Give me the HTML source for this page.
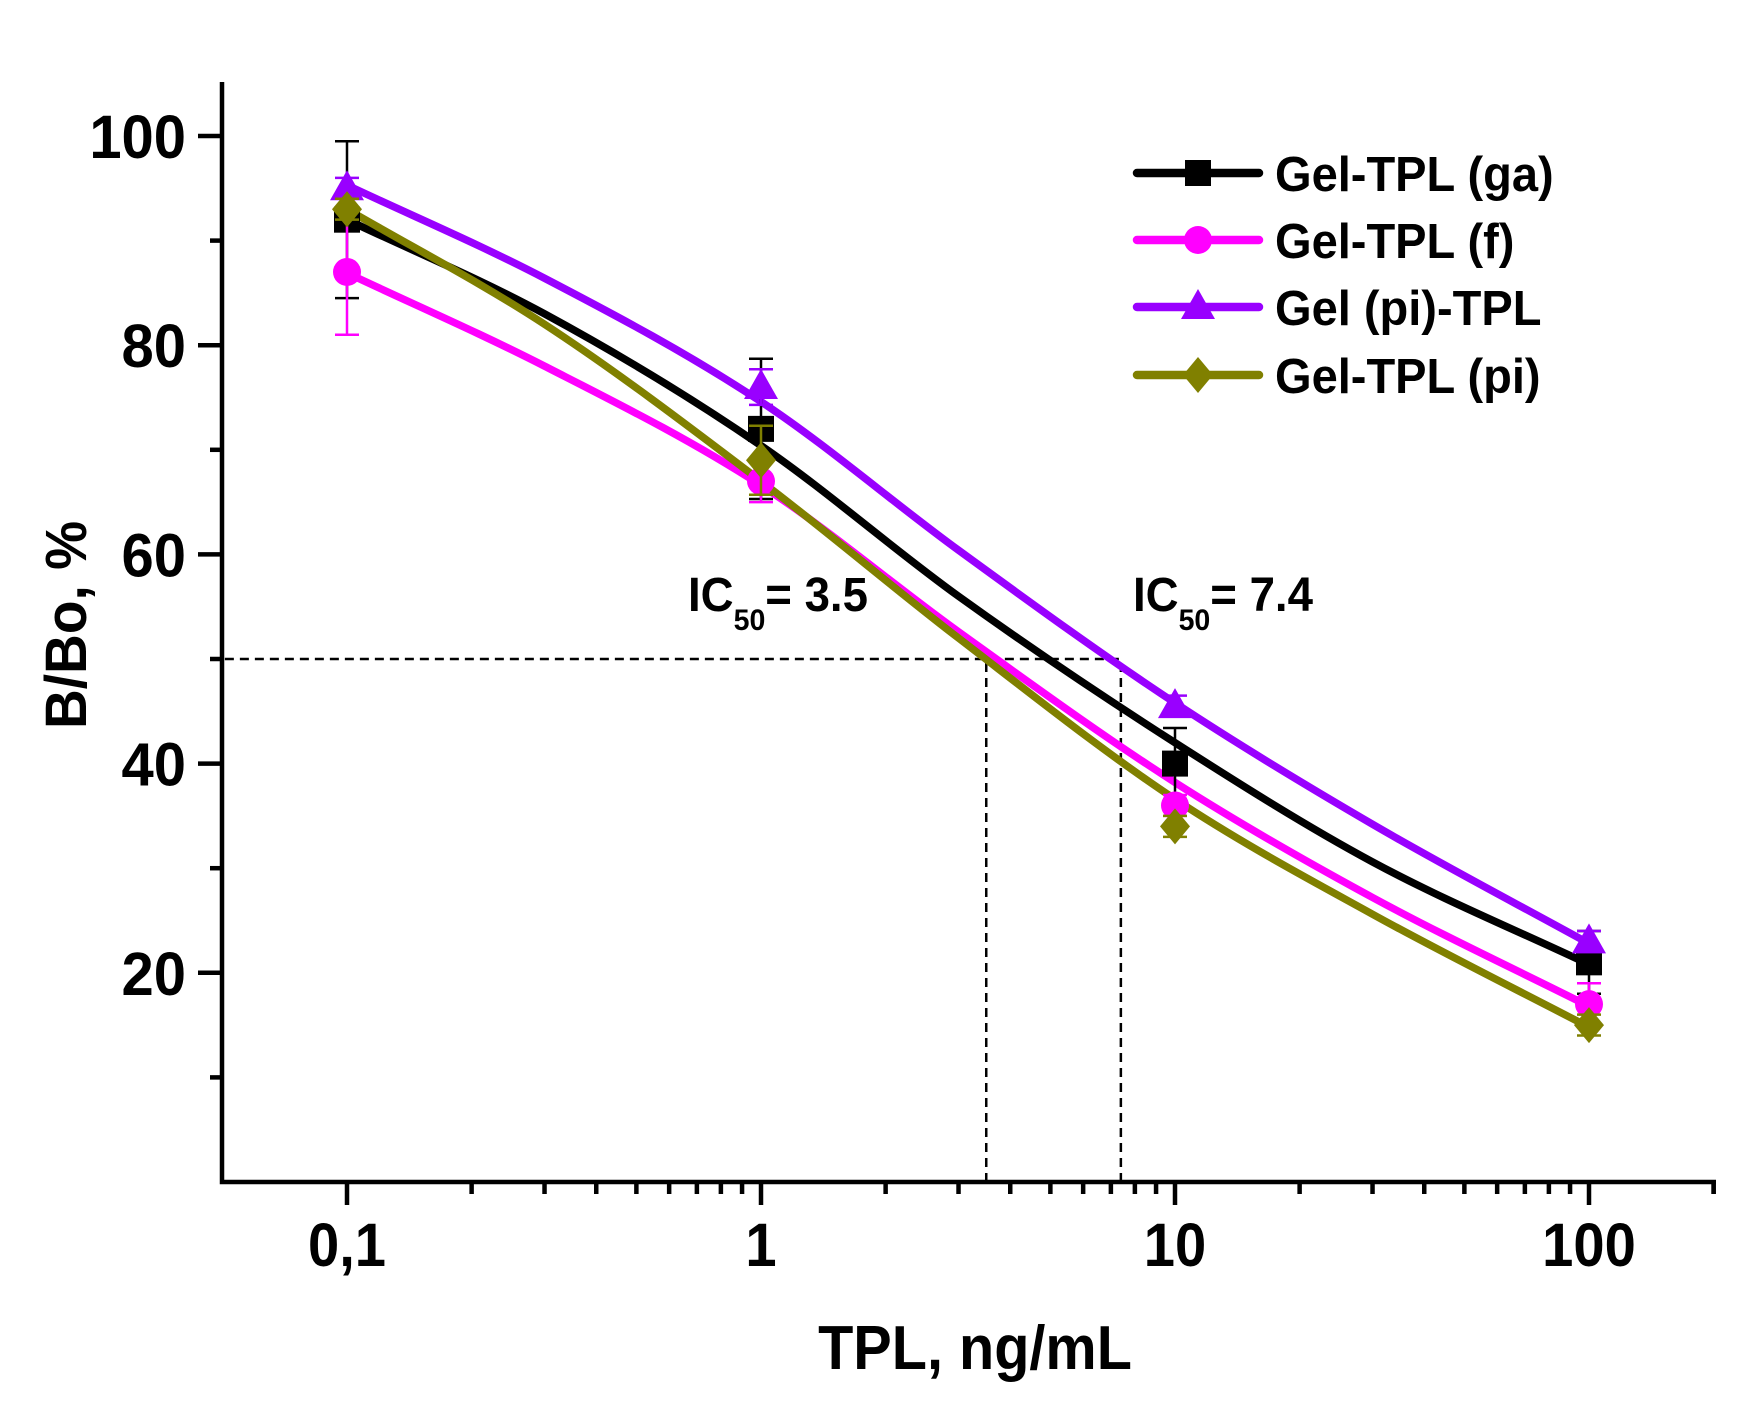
<!DOCTYPE html>
<html><head><meta charset="utf-8"><style>
html,body{margin:0;padding:0;background:#fff;}
svg{display:block;font-family:"Liberation Sans",Arial,sans-serif;font-weight:bold;}
</style></head><body>
<svg id="chart" width="1758" height="1425" viewBox="0 0 1758 1425" xmlns="http://www.w3.org/2000/svg">
<g id="grid"></g>
<g id="series"></g>
<g id="axes"></g>
<g id="legend"></g>
</svg>
<script>
const concentrations = [0.1, 1, 10, 100];
const gaValues = [92, 72, 40, 21];
const gaErrors = [7.5, 6.7, 3.4, 3];
const fValues = [87, 67, 36, 17];
const fErrors = [6, 2, 1, 2];
const piGelValues = [95, 76, 45.5, 23];
const piGelErrors = [1, 1.7, 1, 1];
const piTplValues = [93, 69, 34, 15];
const piTplErrors = [1, 3.3, 1, 1];
const fitX = [0.1, 0.3, 1, 3, 10, 30, 100];
const gaFit = [92, 83, 70.4, 56, 42, 30.6, 20.8];
const fFit = [86.9, 78, 66.6, 52.6, 38.2, 27.2, 16.8];
const piGelFit = [95.3, 86.4, 74.6, 60.4, 45.8, 34.2, 22.8];
const piTplFit = [93, 82, 67, 52, 36.6, 25.6, 14.8];
const xTickValues = [0.1, 1, 10, 100];
const xTickLabels = ["0,1", "1", "10", "100"];
const yTickValues = [20, 40, 60, 80, 100];
const yTickLabels = ["20", "40", "60", "80", "100"];
const ic50Values = [3.5, 7.4];
const ic50Labels = ["3.5", "7.4"];
const legendLabels = ["Gel-TPL (ga)", "Gel-TPL (f)", "Gel (pi)-TPL", "Gel-TPL (pi)"];

const NS = "http://www.w3.org/2000/svg";
const X0 = 347, DEC = 414, Y0 = 1182, PY = 10.46;
function xs(v){ return X0 + DEC * Math.log10(v / 0.1); }
function ys(v){ return Y0 - PY * v; }
function mk(tag, attrs, parent){
  const e = document.createElementNS(NS, tag);
  for (const k in attrs) e.setAttribute(k, attrs[k]);
  parent.appendChild(e);
  return e;
}
const axes = document.getElementById('axes');
const grid = document.getElementById('grid');
const seriesG = document.getElementById('series');
const legend = document.getElementById('legend');

ic50Values.forEach((v, i) => {
  const d = mk('path', {d: `M${xs(v)} ${Y0} V${ys(50)}` + (i === ic50Values.length - 1 ? ` H222` : ''), stroke: '#000', 'stroke-width': 2.5, 'stroke-dasharray': '9 6', fill: 'none'}, grid);
  
  
});
const icX = [688, 1133];
ic50Labels.forEach((lab, i) => {
  const t = mk('text', {x: icX[i], y: 611, 'font-size': 48, fill: '#000', transform: `translate(${icX[i]} 0) scale(0.95 1) translate(${-icX[i]} 0)`}, grid);
  
  
  t.innerHTML = `IC<tspan font-size="30" dy="19">50</tspan><tspan dy="-19">= ${lab}</tspan>`;
});

const ax = mk('path', {d: `M222 82 V${Y0} H1716`, stroke: '#000', 'stroke-width': 4.5, fill: 'none'}, axes);


for (let v = 10; v <= 100; v += 10) {
  const major = v % 20 === 0;
  const t = mk('line', {x1: 222, x2: major ? 198 : 210, y1: ys(v), y2: ys(v), stroke: '#000', 'stroke-width': 4.5}, axes);
  
  
}
yTickValues.forEach((v, i) => {
  const t = mk('text', {x: 186, y: ys(v) + 22, 'font-size': 61, 'text-anchor': 'end', transform: `translate(186 0) scale(0.95 1) translate(-186 0)`}, axes);
  
  
  t.textContent = yTickLabels[i];
});
[0.1, 1, 10, 100].forEach(dec => {
  for (let m = 1; m <= 9; m++) {
    const v = dec * m;
    const t = mk('line', {x1: xs(v), x2: xs(v), y1: Y0, y2: Y0 + (m === 1 ? 23 : 12), stroke: '#000', 'stroke-width': 4.5}, axes);
    
    
  }
});
{
  const t = mk('line', {x1: xs(200), x2: xs(200), y1: Y0, y2: Y0 + 12, stroke: '#000', 'stroke-width': 4.5}, axes);
  
  
}
xTickValues.forEach((v, i) => {
  const x = xs(v);
  const t = mk('text', {x: x, y: 1266, 'font-size': 61, 'text-anchor': 'middle', transform: `translate(${x} 0) scale(0.92 1) translate(${-x} 0)`}, axes);
  
  
  t.textContent = xTickLabels[i];
});
{
  const t = mk('text', {x: 975, y: 1369, 'font-size': 62, 'text-anchor': 'middle', transform: `translate(975 0) scale(0.93 1) translate(-975 0)`}, axes);
  
  
  t.textContent = 'TPL, ng/mL';
  const y = mk('text', {x: 0, y: 0, 'font-size': 58, 'text-anchor': 'middle', transform: `translate(86 625) rotate(-90) scale(0.95 1)`}, axes);
  
  
  y.textContent = 'B/Bo, %';
}

// monotone cubic (Fritsch-Carlson) through samples in pixel space
function smoothPath(xv, yv){
  const P = xv.map((x, i) => [xs(x), ys(yv[i])]);
  const n = P.length, dk = [], m = [];
  for (let i = 0; i < n - 1; i++) dk.push((P[i+1][1] - P[i][1]) / (P[i+1][0] - P[i][0]));
  m[0] = dk[0]; m[n-1] = dk[n-2];
  for (let i = 1; i < n - 1; i++) m[i] = (dk[i-1] * dk[i] <= 0) ? 0 : (dk[i-1] + dk[i]) / 2;
  let d = `M${P[0][0]} ${P[0][1]}`;
  for (let i = 0; i < n - 1; i++) {
    const h = P[i+1][0] - P[i][0];
    d += ` C${P[i][0] + h/3} ${P[i][1] + m[i]*h/3} ${P[i+1][0] - h/3} ${P[i+1][1] - m[i+1]*h/3} ${P[i+1][0]} ${P[i+1][1]}`;
  }
  return d;
}
function marker(shape, cx, cy, color, parent){
  if (shape === 'square') return mk('rect', {x: cx - 13, y: cy - 13, width: 26, height: 26, fill: color}, parent);
  if (shape === 'circle') return mk('circle', {cx: cx, cy: cy, r: 14, fill: color}, parent);
  if (shape === 'triangle') return mk('polygon', {points: `${cx},${cy - 18} ${cx + 17},${cy + 12} ${cx - 17},${cy + 12}`, fill: color}, parent);
  return mk('polygon', {points: `${cx},${cy - 18} ${cx + 15},${cy} ${cx},${cy + 18} ${cx - 15},${cy}`, fill: color}, parent);
}
const seriesDefs = [
  {key: 'ga', color: '#000000', shape: 'square', vals: gaValues, errs: gaErrors, fit: gaFit},
  {key: 'f', color: '#ff00ff', shape: 'circle', vals: fValues, errs: fErrors, fit: fFit},
  {key: 'pi-gel', color: '#9900ff', shape: 'triangle', vals: piGelValues, errs: piGelErrors, fit: piGelFit},
  {key: 'pi-tpl', color: '#808000', shape: 'diamond', vals: piTplValues, errs: piTplErrors, fit: piTplFit}
];
seriesDefs.forEach(s => {
  const p = mk('path', {d: smoothPath(fitX, s.fit), stroke: s.color, 'stroke-width': 7.5, fill: 'none', 'stroke-linecap': 'round', 'stroke-linejoin': 'round'}, seriesG);
  
  
});
seriesDefs.forEach(s => {
  concentrations.forEach((c, i) => {
    const g = mk('g', {}, seriesG);
    
    
    const cx = xs(c), cy = ys(s.vals[i]);
    marker(s.shape, cx, cy, s.color, g);
    const hi = ys(s.vals[i] + s.errs[i]), lo = ys(s.vals[i] - s.errs[i]);
    mk('path', {d: `M${cx} ${hi} V${lo} M${cx - 12} ${hi} H${cx + 12} M${cx - 12} ${lo} H${cx + 12}`, stroke: s.color, 'stroke-width': 2.5, fill: 'none'}, g);
  });
});
const rowY = [173, 240, 307, 375];
seriesDefs.forEach((s, i) => {
  const g = mk('g', {}, legend);
  
  
  mk('line', {x1: 1137, x2: 1259, y1: rowY[i], y2: rowY[i], stroke: s.color, 'stroke-width': 8.5, 'stroke-linecap': 'round'}, g);
  marker(s.shape, 1198, rowY[i], s.color, g);
  const t = mk('text', {x: 1275, y: rowY[i] + 18, 'font-size': 49, transform: `translate(1275 0) scale(0.96 1) translate(-1275 0)`}, g);
  t.textContent = legendLabels[i];
});
</script>
</body></html>
